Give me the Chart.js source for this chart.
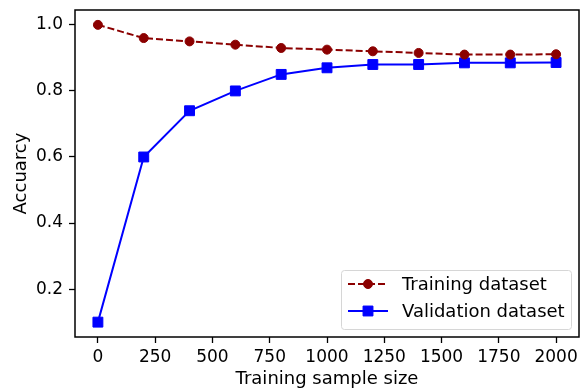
<!DOCTYPE html>
<html>
<head>
<meta charset="utf-8">
<script src="https://cdn.jsdelivr.net/npm/chart.js@4"></script>
<style>
  html, body { margin: 0; padding: 0; background: #fff; }
  #wrap { width: 587px; height: 388px; }
</style>
</head>
<body>
<div id="wrap"><canvas id="curve"></canvas></div>
<script>
var sampleSizes = [0, 200, 400, 600, 800, 1000, 1200, 1400, 1600, 1800, 2000];
var trainAcc = [1.0, 0.96, 0.95, 0.94, 0.93, 0.925, 0.92, 0.915, 0.91, 0.91, 0.911];
var validAcc = [0.1, 0.6, 0.74, 0.8, 0.85, 0.87, 0.88, 0.88, 0.885, 0.885, 0.886];
var xTicks = [0, 250, 500, 750, 1000, 1250, 1500, 1750, 2000];
var yTicks = [0.2, 0.4, 0.6, 0.8, 1.0];

var FONT = "'DejaVu Sans', sans-serif";

function toPoints(ys) {
    return sampleSizes.map(function (x, i) { return { x: x, y: ys[i] }; });
}

// black box round the plot, like matplotlib spines
var frame = {
    id: 'frame',
    afterDraw: function (chart) {
        var a = chart.chartArea, ctx = chart.ctx;
        ctx.save();
        ctx.strokeStyle = '#000';
        ctx.lineWidth = 1.5;
        ctx.strokeRect(a.left, a.top, a.right - a.left, a.bottom - a.top);
        ctx.restore();
    }
};

// legend box in the lower right corner
var boxLegend = {
    id: 'boxLegend',
    afterDatasetsDraw: function (chart) {
        var ctx = chart.ctx;
        var x0 = 341.5, y0 = 270.5, w = 230, h = 59;
        ctx.save();
        ctx.fillStyle = 'rgba(255,255,255,0.85)';
        ctx.strokeStyle = '#d6d6d6';
        ctx.lineWidth = 1;
        ctx.beginPath();
        ctx.roundRect(x0, y0, w, h, 3);
        ctx.fill();
        ctx.stroke();
        var rows = [284, 311];
        chart.data.datasets.forEach(function (ds, i) {
            var y = rows[i];
            ctx.strokeStyle = ds.borderColor;
            ctx.lineWidth = ds.borderWidth;
            ctx.setLineDash(ds.borderDash || []);
            ctx.beginPath();
            ctx.moveTo(348, y);
            ctx.lineTo(388, y);
            ctx.stroke();
            ctx.setLineDash([]);
            ctx.fillStyle = ds.pointBackgroundColor;
            ctx.strokeStyle = ds.pointBorderColor;
            ctx.lineWidth = ds.pointBorderWidth;
            ctx.beginPath();
            if (ds.pointStyle === 'rect') {
                var s = ds.pointRadius * Math.SQRT1_2;
                ctx.rect(368 - s, y - s, 2 * s, 2 * s);
            } else {
                ctx.arc(368, y, ds.pointRadius, 0, Math.PI * 2);
            }
            ctx.fill();
            ctx.stroke();
            ctx.fillStyle = '#000';
            ctx.font = '18px ' + FONT;
            ctx.textBaseline = 'middle';
            ctx.fillText(ds.label, 402, y + 1);
        });
        ctx.restore();
    }
};

function noPad(s) {
    s.paddingTop = 0; s.paddingBottom = 0; s.paddingLeft = 0; s.paddingRight = 0;
}

var ctxC = document.getElementById('curve').getContext('2d');
var curveChart = new Chart(ctxC, {
    type: 'line',
    data: {
        datasets: [{
            label: 'Training dataset',
            data: toPoints(trainAcc),
            borderColor: '#8b0000',
            backgroundColor: '#8b0000',
            pointBackgroundColor: '#8b0000',
            pointBorderColor: '#8b0000',
            borderWidth: 2,
            borderDash: [7, 3],
            pointStyle: 'circle',
            pointRadius: 4.5,
            pointBorderWidth: 1,
            tension: 0
        }, {
            label: 'Validation dataset',
            data: toPoints(validAcc),
            borderColor: '#0000ff',
            backgroundColor: '#0000ff',
            pointBackgroundColor: '#0000ff',
            pointBorderColor: '#0000ff',
            borderWidth: 2,
            pointStyle: 'rect',
            pointRadius: 7,
            pointBorderWidth: 1,
            tension: 0
        }]
    },
    options: {
        responsive: true,
        maintainAspectRatio: false,
        animation: false,
        layout: { padding: { left: 0, top: 10, right: 7, bottom: 0 } },
        plugins: {
            legend: { display: false },
            tooltip: { enabled: false }
        },
        scales: {
            x: {
                type: 'linear',
                min: -100,
                max: 2100,
                afterBuildTicks: function (s) { s.ticks = xTicks.map(function (v) { return { value: v }; }); },
                afterFit: function (s) { s.height = 51; noPad(s); },
                border: { display: false },
                grid: { drawOnChartArea: false, drawTicks: true, tickLength: 6, tickColor: '#000', tickWidth: 1.3 },
                ticks: { color: '#000', padding: 4, maxRotation: 0, autoSkip: false, font: { family: FONT, size: 17 },
                    callback: function (v) { return String(v); } },
                title: { display: true, text: 'Training sample size', color: '#000', padding: { top: 0, bottom: -2 }, font: { family: FONT, size: 18 } }
            },
            y: {
                min: 0.055,
                max: 1.045,
                afterBuildTicks: function (s) { s.ticks = yTicks.map(function (v) { return { value: v }; }); },
                afterFit: function (s) { s.width = 75; noPad(s); },
                border: { display: false },
                grid: { drawOnChartArea: false, drawTicks: true, tickLength: 6, tickColor: '#000', tickWidth: 1.3 },
                ticks: { color: '#000', padding: 6, autoSkip: false, font: { family: FONT, size: 17 },
                    callback: function (v) { return v.toFixed(1); } },
                title: { display: true, text: 'Accuarcy', color: '#000', padding: { top: 11, bottom: 0 }, font: { family: FONT, size: 18 } }
            }
        }
    },
    plugins: [frame, boxLegend]
});
</script>
</body>
</html>
